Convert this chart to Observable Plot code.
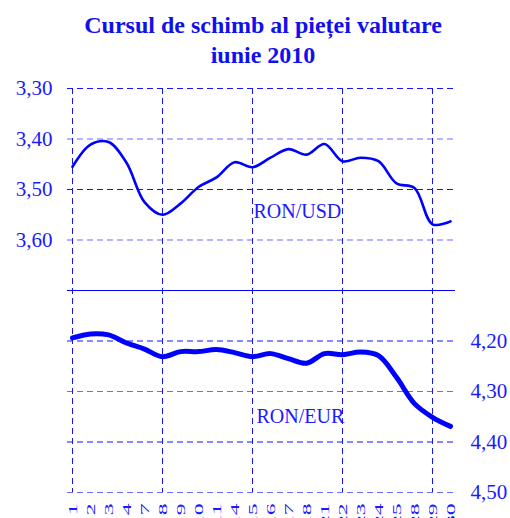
<!DOCTYPE html>
<html>
<head>
<meta charset="utf-8">
<script src="https://cdn.jsdelivr.net/npm/d3@7"></script>
<script src="https://cdn.jsdelivr.net/npm/@observablehq/plot@0.6"></script>
<style>
  body { margin: 0; background: #fff; }
  #title {
    font-family: "Liberation Serif", "Times New Roman", serif;
    font-weight: bold; font-size: 24px; color: #1010ee;
    text-align: center; line-height: 30px;
    width: 494px; padding-left: 16px; padding-top: 10px; height: 60px;
  }
  #chart svg { display: block; }
  #chart svg text { font-family: "Liberation Serif", "Times New Roman", serif; }
</style>
</head>
<body>
<div id="title">Cursul de schimb al pieței valutare<br>iunie 2010</div>
<div id="chart"></div>
<script>
const days = ["1","2","3","4","7","8","9","10","11","14","15","16","17","18","21","22","23","24","25","28","29","30"];
const usd = [3.455, 3.411, 3.406, 3.447, 3.525, 3.550, 3.528, 3.495, 3.476, 3.446, 3.456, 3.437, 3.420, 3.431, 3.410, 3.444, 3.437, 3.444, 3.488, 3.497, 3.569, 3.563];
const eur = [4.194, 4.186, 4.188, 4.204, 4.216, 4.231, 4.221, 4.221, 4.217, 4.223, 4.231, 4.225, 4.235, 4.244, 4.225, 4.227, 4.222, 4.229, 4.272, 4.324, 4.351, 4.369];
const usdTicks = [3.30, 3.40, 3.50, 3.60];
const eurTicks = [4.20, 4.30, 4.40, 4.50];
const gridDays = ["1", "8", "15", "22", "29"];
const usdLabel = "RON/USD";
const eurLabel = "RON/EUR";

// RON/EUR is drawn on the lower half of the shared axis (dual axis)
const EUR_SHIFT = 0.40;
const usdData = days.map((d, i) => ({day: d, v: usd[i]}));
const eurData = days.map((d, i) => ({day: d, v: eur[i] - EUR_SHIFT}));
const fmt = v => v.toFixed(2).replace(".", ",");

const allGrid = usdTicks.concat(eurTicks.map(t => t - EUR_SHIFT));
const darkGrid = allGrid.filter((t, i) => i % 2 === 0);
const lightGrid = allGrid.filter((t, i) => i % 2 === 1);
const dark = "#1414ff", light = "#6a6aff";

const svg = Plot.plot({
  width: 510, height: 448,
  marginTop: 18, marginBottom: 26, marginLeft: 67, marginRight: 55,
  style: {fontFamily: "'Liberation Serif', 'Times New Roman', serif", color: "#1a1aff", background: "white"},
  x: {type: "point", domain: days, padding: 0, label: null},
  y: {domain: [3.30, 3.30 + 0.8], reverse: true, label: null},
  marks: [
    Plot.ruleY(darkGrid, {stroke: dark, strokeDasharray: "6,4", strokeWidth: 1}),
    Plot.ruleY(lightGrid, {stroke: light, strokeDasharray: "6,4", strokeWidth: 1}),
    Plot.ruleX(gridDays, {stroke: dark, strokeDasharray: "6,4", strokeWidth: 1}),
    Plot.ruleY([3.70], {stroke: "#0000ff", strokeWidth: 1.2}),
    Plot.line(usdData, {x: "day", y: "v", stroke: "#0000ff", strokeWidth: 2.6, curve: "catmull-rom"}),
    Plot.line(eurData, {x: "day", y: "v", stroke: "#0000ff", strokeWidth: 5, curve: "catmull-rom"}),
    Plot.text([usdLabel], {x: () => "15", y: () => 3.543, text: d => d, textAnchor: "start", dx: 1, fontSize: 20, fill: "#1a1aff"}),
    Plot.text([eurLabel], {x: () => "15", y: () => 4.35 - EUR_SHIFT, text: d => d, textAnchor: "start", dx: 4, fontSize: 20, fill: "#1a1aff"}),
    Plot.axisY({anchor: "left", ticks: usdTicks, tickSize: 0, tickPadding: 15, fontSize: 21, tickFormat: fmt, label: null}),
    Plot.axisY({anchor: "right", ticks: eurTicks.map(t => t - EUR_SHIFT), tickSize: 0, tickPadding: 15, fontSize: 21, tickFormat: v => fmt(v + EUR_SHIFT), label: null}),
    Plot.axisX({ticks: days, tickSize: 0, tickPadding: 11, tickRotate: -90, fontSize: 13.5, label: null})
  ]
});
document.getElementById("chart").appendChild(svg);
d3.select(svg).selectAll('[aria-label="x-axis tick label"] text').each(function() {
  const t = this.getAttribute("transform") || "";
  this.setAttribute("transform", t + " scale(1.75,1)");
});
</script>
</body>
</html>
